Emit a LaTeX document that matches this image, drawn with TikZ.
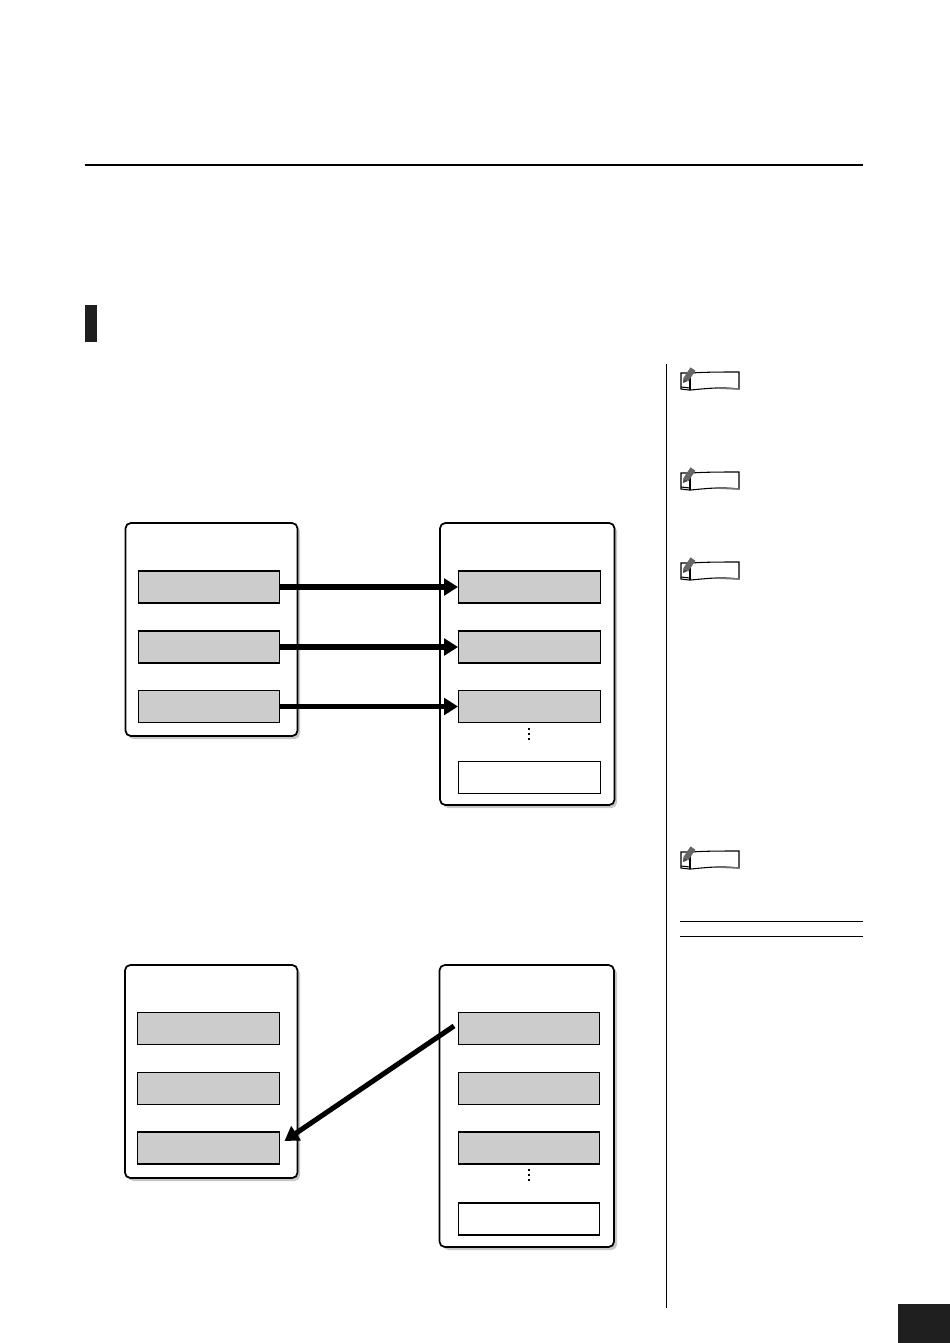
\documentclass[tikz,border=0pt]{standalone}
\usetikzlibrary{arrows.meta,positioning}
\tikzset{
  x=0.75pt,y=-0.75pt,
  outerbox/.style={draw=black,line width=1.3pt,fill=white,rounded corners=4pt},
  shadowbox/.style={fill=black!22,rounded corners=4pt},
  slot/.style={draw=black,line width=1pt,fill=black!20,inner sep=0pt,minimum width=106.2pt,minimum height=24.2pt},
  emptyslot/.style={slot,fill=white},
  bigarrow/.style={line width=3.8pt,-{Triangle[length=10.5pt,width=12.5pt]}},
  rule/.style={line width=1.3pt,draw=black},
  thinrule/.style={line width=0.6pt,draw=black},
  dotmark/.style={fill=black,inner sep=0pt,minimum size=1.5pt,rectangle},
  notepic/.pic={
    \draw[line width=0.8pt,fill=white] (-15,0) -- (-5,0) .. controls (10,-1) and (25,-1) .. (43,-1) -- (43,16)
      .. controls (25,14) and (15,15) .. (-5,17) -- (-7,17) -- (-15,16) -- cycle;
    \draw[line width=0.8pt] (-6,0) -- (-6,17);
    \draw[line width=0.8pt] (-15,14) -- (-6,15);
    \draw[line width=1.2pt,black!55] (20,15) -- (43,16);
    \draw[line width=4.4pt,black!60] (-3,-4) -- (-10,6.5);
    \fill[black!70] (-12.5,5) -- (-8,8) -- (-13,10) -- cycle;
  },
}
\begin{document}
\begin{tikzpicture}
\useasboundingbox (0,0) rectangle (950,1343);
% page furniture
\draw[rule] (85,165) -- (863,165);
\fill[black!88] (85,305) rectangle (97,342);
\draw[rule] (666.5,364) -- (666.5,1308);
\fill[black!88] (898,1304) rectangle (950,1343);
\draw[thinrule] (680,921.5) -- (863,921.5);
\draw[thinrule] (680,936.5) -- (863,936.5);
\pic at (696,373) {notepic};
\pic at (696,473) {notepic};
\pic at (696,563) {notepic};
\pic at (696,852) {notepic};

% upper diagram
\fill[shadowbox] (128,526) rectangle (300,739);
\fill[shadowbox] (443,526) rectangle (617,808);
\draw[outerbox] (125.5,523) rectangle (297.5,736);
\draw[outerbox] (440,523) rectangle (614.5,805);
\node[slot] (la) at (209,587) {};
\node[slot] (lb) at (209,647) {};
\node[slot] (lc) at (209,706.5) {};
\node[slot] (ra) at (529.5,587) {};
\node[slot] (rb) at (529.5,647) {};
\node[slot] (rc) at (529.5,706.5) {};
\node[emptyslot] (rd) at (529.5,777.5) {};
\node[dotmark] (da) at (528.5,728.5) {};
\node[dotmark] (db) at (528.5,733.5) {};
\node[dotmark] (dc) at (528.5,738.5) {};
\draw[bigarrow] (la.east) -- (ra.west);
\draw[bigarrow] (lb.east) -- (rb.west);
\draw[bigarrow] (lc.east) -- (rc.west);

% lower diagram
\fill[shadowbox] (128,968) rectangle (300,1181);
\fill[shadowbox] (443,968) rectangle (617,1250);
\draw[outerbox] (125,965) rectangle (297.5,1178);
\draw[outerbox] (439.5,965) rectangle (614,1247);
\node[slot] (lla) at (208.5,1028.5) {};
\node[slot] (llb) at (208.5,1088.5) {};
\node[slot] (llc) at (208.5,1148) {};
\node[slot] (rra) at (529,1028.5) {};
\node[slot] (rrb) at (529,1088.5) {};
\node[slot] (rrc) at (529,1148) {};
\node[emptyslot] (rrd) at (529,1219) {};
\node[dotmark] (dd) at (528.5,1169.5) {};
\node[dotmark] (de) at (528.5,1174.5) {};
\node[dotmark] (df) at (528.5,1179.5) {};
\coordinate (from) at (454,1026);
\coordinate (to) at (284.5,1141);
\draw[bigarrow] (from) -- (to);
\end{tikzpicture}
\end{document}
